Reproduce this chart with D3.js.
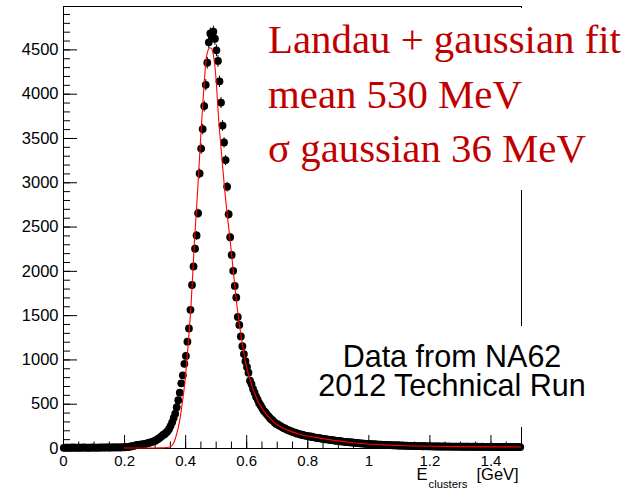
<!DOCTYPE html>
<html>
<head>
<meta charset="utf-8">
<script src="https://cdn.jsdelivr.net/npm/d3@7"></script>
<style>
  html, body { margin: 0; padding: 0; background: #fff; }
  svg { display: block; }
</style>
</head>
<body>
<svg id="chart" width="638" height="489"></svg>
<script>
// Histogram of cluster energies: 300 bins of 5 MeV from 0 to 1.5 GeV
const binWidth = 0.005;

// 0 - 0.2 GeV
const countsFlat = [2,4,3,5,3,4,6,3,5,4,3,5,4,6,4,5,3,4,5,6,
                    4,5,5,4,6,5,7,5,6,6,5,7,6,7,8,6,7,8,7,9];
// 0.2 - 0.3 GeV
const countsRise = [8,10,12,14,18,22,25,30,34,36,38,40,42,46,50,55,60,64,70,78];
// 0.3 - 0.6 GeV (peak)
const countsPeak = [82,95,105,118,132,148,155,172,190,215,
                    250,290,340,388,460,540,625,730,820,950,
                    1040,1200,1350,1560,1840,2050,2250,2400,2650,3100,
                    3380,3600,3860,4100,4350,4580,4680,4650,4700,4620,
                    4490,4370,4140,3900,3640,3450,3250,2950,2640,2380,
                    2180,2000,1830,1700,1480,1390,1260,1150,1060,980];
// 0.6 - 1.0 GeV
const countsTail = [915,850,760,720,665,625,580,545,505,480,
                    450,420,405,380,360,340,322,310,290,275,
                    268,255,248,236,225,220,208,202,196,188,
                    180,176,170,162,160,152,150,145,140,138,
                    135,128,130,122,120,118,112,114,108,106,
                    104,98,100,95,92,90,88,85,84,80,
                    80,76,75,72,70,70,66,65,64,62,
                    60,58,58,55,53,52,50,50,47,46];
// 1.0 - 1.5 GeV
const countsFar = [45,44,42,43,40,40,38,39,37,36,35,35,34,32,33,31,30,31,29,28,
                   28,27,28,26,25,26,24,24,23,24,22,22,21,22,21,20,20,21,19,19,
                   19,18,19,18,17,18,17,16,17,17,16,16,17,16,15,16,15,15,16,15,
                   15,14,15,14,14,15,14,13,14,14,13,14,13,13,14,13,13,12,13,13,
                   12,13,12,12,13,12,12,11,12,12,11,12,12,11,12,11,11,12,11,11];

// Landau (x) gaussian fit curve
const fitE = [0.20,0.25,0.30,0.32,0.34,0.35,0.36,0.37,0.38,0.39,
              0.40,0.41,0.42,0.43,0.44,0.45,0.46,0.47,0.475,0.48,
              0.485,0.49,0.495,0.50,0.51,0.52,0.53,0.54,0.55,0.56,
              0.57,0.58,0.59,0.60,0.62,0.64,0.66,0.68,0.70,0.72,
              0.75,0.78,0.80,0.85,0.90,0.95,1.00,1.05,1.10,1.20,
              1.30,1.40,1.50];
const fitCounts = [0,0,0,1,5,12,40,130,270,490,
                   770,1170,1650,2300,2850,3450,4000,4420,4490,4515,
                   4515,4480,4380,4220,3700,3290,2900,2570,2260,1920,
                   1600,1340,1120,930,690,520,405,325,265,225,
                   182,150,135,108,80,60,45,35,28,19,
                   15,13,12];

const xMajorTicks = [0, 0.2, 0.4, 0.6, 0.8, 1.0, 1.2, 1.4];
const xMinorTicks = d3.range(0, 1.5001, 0.05);
const yMajorTicks = [0, 500, 1000, 1500, 2000, 2500, 3000, 3500, 4000, 4500];
const yMinorTicks = d3.range(0, 4901, 100);

const fitLines = ["Landau + gaussian fit", "mean 530 MeV", "\u03c3 gaussian 36 MeV"];
const noteLines = ["Data from NA62", "2012 Technical Run"];

const counts = [].concat(countsFlat, countsRise, countsPeak, countsTail, countsFar);
const bins = counts.map((c, i) => ({ e: (i + 0.5) * binWidth, c }));
const fit = fitE.map((e, i) => ({ e, c: fitCounts[i] }));

const svg = d3.select("#chart");
const frame = { left: 63, right: 521, top: 6, bottom: 448 };

const x = d3.scaleLinear().domain([0, 1.5]).range([frame.left, frame.right]);
const y = d3.scaleLinear().domain([0, 4990]).range([frame.bottom, frame.top]);

svg.append("rect").attr("width", 638).attr("height", 489).attr("fill", "#fff");

// axes (ticks point into the frame)
const sans = "'Liberation Sans', Arial, sans-serif";
function styleAxis(g) {
  g.selectAll("path,line").attr("stroke", "#000").attr("stroke-width", 1);
  g.selectAll("text").attr("font-family", sans).attr("fill", "#000");
}
const fmt = d => String(+d.toFixed(1));

svg.append("g").attr("transform", `translate(0,${frame.bottom})`)
  .call(d3.axisBottom(x).tickValues(xMinorTicks).tickSize(-6.5).tickSizeOuter(0).tickFormat(""))
  .call(styleAxis);
svg.append("g").attr("transform", `translate(0,${frame.bottom})`)
  .call(d3.axisBottom(x).tickValues(xMajorTicks).tickSize(-13).tickSizeOuter(0).tickPadding(7).tickFormat(fmt))
  .call(styleAxis)
  .selectAll("text").attr("font-size", 15);

svg.append("g").attr("transform", `translate(${frame.left},0)`)
  .call(d3.axisLeft(y).tickValues(yMinorTicks).tickSize(-7).tickSizeOuter(0).tickFormat(""))
  .call(styleAxis);
svg.append("g").attr("transform", `translate(${frame.left},0)`)
  .call(d3.axisLeft(y).tickValues(yMajorTicks).tickSize(-14).tickSizeOuter(0).tickPadding(4.5).tickFormat(d3.format("d")))
  .call(styleAxis)
  .selectAll("text").attr("font-size", 16.5);

// frame
svg.append("line").attr("x1", frame.left).attr("x2", frame.right + 0.5)
  .attr("y1", frame.top + 0.5).attr("y2", frame.top + 0.5).attr("stroke", "#000");
svg.append("line").attr("x1", frame.right + 0.5).attr("x2", frame.right + 0.5)
  .attr("y1", frame.top).attr("y2", frame.bottom).attr("stroke", "#000");

// axis title
svg.append("text").attr("x", 416.5).attr("y", 480).attr("font-family", sans).attr("font-size", 16.5).text("E");
svg.append("text").attr("x", 428.5).attr("y", 488).attr("font-family", sans).attr("font-size", 11.3).text("clusters");
svg.append("text").attr("x", 476.5).attr("y", 480).attr("font-family", sans).attr("font-size", 16.5).text("[GeV]");

// data points with statistical error bars
const pts = svg.append("g");
pts.selectAll("line").data(bins).join("line")
  .attr("x1", d => x(d.e)).attr("x2", d => x(d.e))
  .attr("y1", d => y(d.c + Math.sqrt(d.c))).attr("y2", d => y(Math.max(0, d.c - Math.sqrt(d.c))))
  .attr("stroke", "#000").attr("stroke-width", 1);
pts.selectAll("circle").data(bins).join("circle")
  .attr("cx", d => x(d.e)).attr("cy", d => y(d.c))
  .attr("r", 3.9).attr("fill", "#000");

// fit curve
svg.append("path").datum(fit)
  .attr("d", d3.line().x(d => x(d.e)).y(d => y(d.c)).curve(d3.curveMonotoneX))
  .attr("fill", "none").attr("stroke", "#ff0000").attr("stroke-width", 1.1);

// fit summary
svg.append("rect").attr("x", 262).attr("y", 8).attr("width", 376).attr("height", 182).attr("fill", "#fff");
const fitText = svg.append("g").attr("font-family", "'Liberation Serif', 'Times New Roman', serif")
  .attr("fill", "#c00000");
fitText.selectAll("text").data(fitLines).join("text")
  .attr("x", 268).attr("y", (d, i) => [53, 108, 162][i])
  .attr("font-size", 40).text(d => d);
const w0 = fitText.select("text").node().getComputedTextLength();
fitText.selectAll("text").attr("font-size", 40 * 353 / w0);

// data source note
svg.append("rect").attr("x", 305).attr("y", 326).attr("width", 300).attr("height", 101).attr("fill", "#fff");
svg.append("g").attr("font-family", sans).attr("font-size", 30.5).attr("fill", "#000")
  .selectAll("text").data(noteLines).join("text")
  .attr("x", 452).attr("y", (d, i) => [367, 396][i])
  .attr("text-anchor", "middle").text(d => d);
</script>
</body>
</html>
